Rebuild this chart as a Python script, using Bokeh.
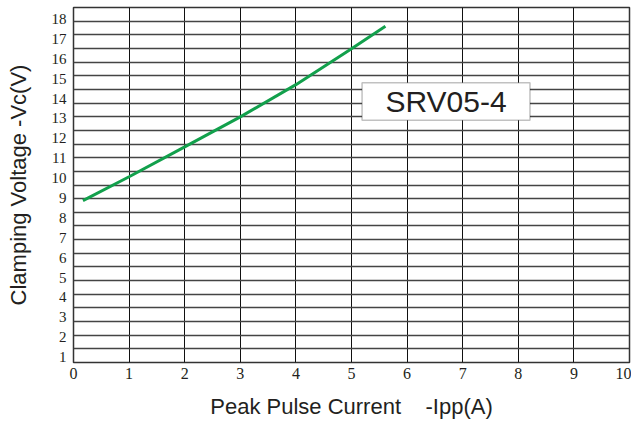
from bokeh.plotting import figure
from bokeh.models import FixedTicker, BoxAnnotation, Label, Range1d
from bokeh.embed import file_html
from bokeh.resources import INLINE

# Data
ipp_a = [0.17, 1, 2, 3, 4, 5, 5.61]          # Peak pulse current (A)
vc_v = [8.87, 10.07, 11.57, 13.08, 14.70, 16.51, 17.64]  # Clamping voltage (V)
x_ticks = list(range(0, 11))
y_ticks = list(range(1, 19))
part_name = "SRV05-4"
x_title = "Peak Pulse Current\u00a0\u00a0\u00a0 -Ipp(A)"
y_title = "Clamping Voltage -Vc(V)"

Y0, Y1 = 0.73, 18.58
p = figure(width=631, height=421,
           x_range=Range1d(0, 10), y_range=Range1d(Y0, Y1),
           output_backend="svg", toolbar_location=None,
           min_border_left=73, min_border_right=2,
           min_border_top=7, min_border_bottom=58)

p.background_fill_color = "white"
p.border_fill_color = "white"
p.outline_line_color = "#333333"
p.outline_line_width = 1.5

# grids
p.xgrid.ticker = FixedTicker(ticks=x_ticks)
p.xgrid.grid_line_color = "#111111"
p.xgrid.grid_line_width = 1
n_h = 26
p.ygrid.ticker = FixedTicker(ticks=[Y0 + k * (Y1 - Y0) / n_h for k in range(1, n_h)])
p.ygrid.grid_line_color = "#444444"
p.ygrid.grid_line_width = 1.3

# axes
for ax in (p.xaxis[0], p.yaxis[0]):
    ax.axis_line_color = None
    ax.major_tick_line_color = None
    ax.minor_tick_line_color = None
    ax.major_tick_out = 0
    ax.major_tick_in = 0
    ax.major_label_text_font = "Liberation Serif"
    ax.major_label_text_color = "#231f20"
    ax.axis_label_text_font = "Liberation Sans"
    ax.axis_label_text_font_style = "normal"
    ax.axis_label_text_font_size = "22px"
    ax.axis_label_text_color = "#231f20"

p.xaxis.ticker = FixedTicker(ticks=x_ticks)
p.xaxis.major_label_text_font_size = "16px"
p.xaxis.major_label_standoff = 5
p.xaxis.axis_label = x_title
p.xaxis.axis_label_standoff = 12

p.yaxis.ticker = FixedTicker(ticks=y_ticks)
p.yaxis.major_label_text_font_size = "15px"
p.yaxis.major_label_standoff = 7
p.yaxis.axis_label = y_title
p.yaxis.axis_label_standoff = 18

# curve
p.line(ipp_a, vc_v, line_color="#12a04c", line_width=3)

# part-name box
box = BoxAnnotation(left=5.19, right=8.21, bottom=12.91, top=14.80,
                    fill_color="white", fill_alpha=1.0,
                    line_color="#333333", line_width=1.5)
p.add_layout(box)
p.add_layout(Label(x=6.70, y=13.85, text=part_name,
                   text_align="center", text_baseline="middle",
                   text_font="Liberation Sans", text_font_size="30px",
                   text_color="#231f20"))

open("out.html", "w").write(file_html(p, INLINE))
